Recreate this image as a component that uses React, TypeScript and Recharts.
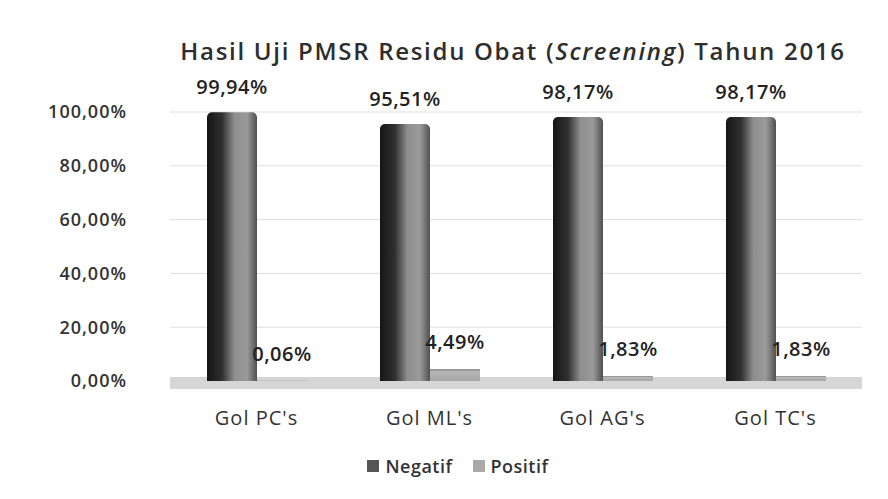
import React from 'react';
import { BarChart, Bar, XAxis, YAxis, CartesianGrid, Legend, LabelList, ReferenceArea } from 'recharts';

const categories = ["Gol PC's", "Gol ML's", "Gol AG's", "Gol TC's"];
const negatif = [99.94, 95.51, 98.17, 98.17];
const positif = [0.06, 4.49, 1.83, 1.83];
const yTicks = [0, 20, 40, 60, 80, 100];
const seriesNames = ['Negatif', 'Positif'];
const legendColors = ['#555555', '#a9a9a9'];

const data = categories.map((c, i) => ({ name: c, Negatif: negatif[i], Positif: positif[i] }));

const fmt = (v: number) => v.toFixed(2).replace('.', ',') + '%';
const FONT = "'Open Sans', sans-serif";

const LegendContent = () => (
  <div style={{ display: 'flex', justifyContent: 'center', alignItems: 'center', fontFamily: FONT, fontSize: 18, fontWeight: 600, letterSpacing: 0.5, color: '#333' }}>
    {seriesNames.map((n, i) => (
      <span key={n} style={{ display: 'inline-flex', alignItems: 'center', marginRight: i === 0 ? 20 : 0 }}>
        <span style={{ display: 'inline-block', width: 12, height: 12, background: legendColors[i], marginRight: 6 }} />
        {n}
      </span>
    ))}
  </div>
);

export default function App() {
  const tickStyle = { fontSize: 18, fill: '#333', fontFamily: FONT, fontWeight: 600, letterSpacing: 1 };
  const xTickStyle = { fontSize: 20, fill: '#333', fontFamily: FONT, fontWeight: 500, letterSpacing: 1 };
  const labelStyle = { fontSize: 20, fill: '#222', fontFamily: FONT, fontWeight: 600, letterSpacing: 0.5 };
  return (
    <div style={{ position: 'absolute', left: 0, top: 0, width: 888, height: 499, background: '#ffffff', fontFamily: FONT }}>
      <div style={{ position: 'absolute', left: 170, top: 34, width: 686, textAlign: 'center', fontSize: 24, fontWeight: 600, letterSpacing: 1.7, color: '#2e2e2e', whiteSpace: 'nowrap' }}>
        Hasil Uji PMSR Residu Obat (<i>Screening</i>) Tahun 2016
      </div>
      <BarChart width={888} height={499} data={data} margin={{ top: 112, right: 26, bottom: 44, left: 10 }} barGap={0} barSize={50}>
        <defs>
          <linearGradient id="cyl" x1="0" y1="0" x2="1" y2="0">
            <stop offset="0%" stopColor="#151515" />
            <stop offset="30%" stopColor="#303030" />
            <stop offset="55%" stopColor="#8f8f8f" />
            <stop offset="80%" stopColor="#9a9a9a" />
            <stop offset="100%" stopColor="#505050" />
          </linearGradient>
          <linearGradient id="box" x1="0" y1="0" x2="0" y2="1">
            <stop offset="0%" stopColor="#8c8c8c" />
            <stop offset="25%" stopColor="#b5b5b5" />
            <stop offset="100%" stopColor="#a8a8a8" />
          </linearGradient>
        </defs>
        <CartesianGrid vertical={false} stroke="#dedede" />
        <ReferenceArea y1={-3} y2={1.5} fill="#d6d6d6" fillOpacity={1} stroke="none" ifOverflow="visible" />
        <XAxis dataKey="name" axisLine={false} tickLine={false} tickMargin={24} height={50} tick={xTickStyle} />
        <YAxis domain={[0, 100]} ticks={yTicks} tickFormatter={fmt} axisLine={false} tickLine={false} width={160}
          tickMargin={37} tick={tickStyle} />
        <Legend verticalAlign="bottom" content={<LegendContent />}
          wrapperStyle={{ top: 454, left: 14, width: 888 }} />
        <Bar dataKey="Negatif" fill="url(#cyl)" isAnimationActive={false} radius={[5, 5, 0, 0]}>
          <LabelList dataKey="Negatif" position="top" offset={18} formatter={(v: any) => fmt(Number(v))} style={labelStyle} />
        </Bar>
        <Bar dataKey="Positif" fill="url(#box)" isAnimationActive={false}>
          <LabelList dataKey="Positif" position="top" offset={20} formatter={(v: any) => fmt(Number(v))} style={labelStyle} />
        </Bar>
      </BarChart>
    </div>
  );
}
